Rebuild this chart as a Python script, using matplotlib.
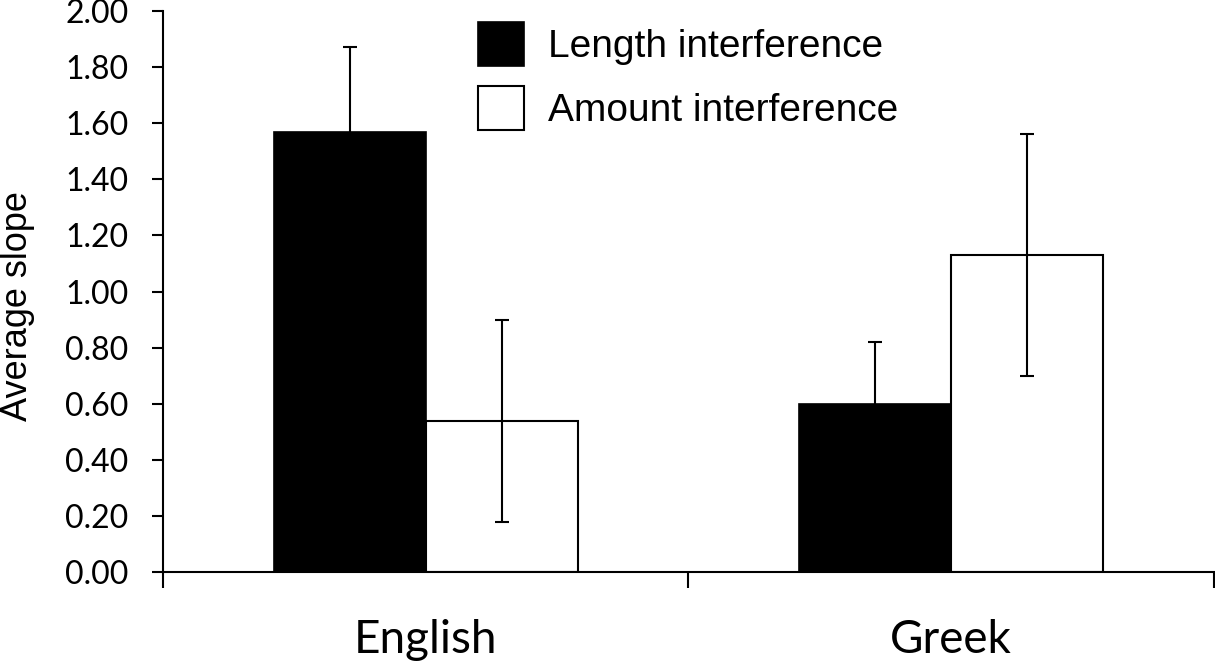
import matplotlib
matplotlib.use("Agg")
import matplotlib.pyplot as plt
import numpy as np

categories = ["English", "Greek"]
series_names = ["Length interference", "Amount interference"]
length_vals = [1.57, 0.60]
length_err = [0.30, 0.22]
amount_vals = [0.54, 1.13]
amount_err = [0.36, 0.43]
yticks = [0.0, 0.2, 0.4, 0.6, 0.8, 1.0, 1.2, 1.4, 1.6, 1.8, 2.0]

fig = plt.figure(figsize=(12.15, 6.65), dpi=100)
ax = fig.add_axes([163/1215, 1-572/665, 1-163/1215 - 0.001, (572-11)/665])

x = np.arange(len(categories))
w = 0.289
ax.bar(x - w/2, length_vals, w, color="black", edgecolor="black", linewidth=1.2,
       label=series_names[0], zorder=2)
ax.bar(x + w/2, amount_vals, w, color="white", edgecolor="black", linewidth=1.5,
       label=series_names[1], zorder=2)
ax.errorbar(x - w/2, length_vals, yerr=length_err, fmt="none", ecolor="black",
            elinewidth=1.5, capsize=5, capthick=1.5, zorder=3)
ax.errorbar(x + w/2, amount_vals, yerr=amount_err, fmt="none", ecolor="black",
            elinewidth=1.5, capsize=5, capthick=1.5, zorder=3)

ax.set_xlim(-0.5, 1.5)
ax.set_ylim(0, 2.0)
ax.set_yticks(yticks)
ax.set_yticklabels([f"{v:.2f}" for v in yticks], fontfamily="Lato", fontsize=23)
ax.set_xticks(x)
ax.set_xticklabels(categories, fontfamily="Lato", fontsize=33)
ax.set_xticks([-0.5, 0.5, 1.5], minor=True)
ax.tick_params(axis="x", which="major", length=0, pad=34)
ax.tick_params(axis="x", which="minor", length=11.5, width=1.5, direction="out")
ax.tick_params(axis="y", length=8, width=1.5, direction="out", pad=17)

for s in ["top", "right"]:
    ax.spines[s].set_visible(False)
for s in ["left", "bottom"]:
    ax.spines[s].set_linewidth(1.5)

ax.set_ylabel("Average slope", fontfamily="Liberation Sans", fontsize=26)
ax.yaxis.set_label_coords((35-163)/1052, (572-306)/561)

leg = ax.legend(loc="upper left", bbox_to_anchor=(478/1215, 1-22/665),
                bbox_transform=fig.transFigure, frameon=False,
                prop={"family": "Liberation Sans", "size": 28},
                handlelength=1.18, handleheight=1.35, handletextpad=0.62,
                labelspacing=0.53, borderpad=0, borderaxespad=0)

fig.savefig("out.png", dpi=100)
